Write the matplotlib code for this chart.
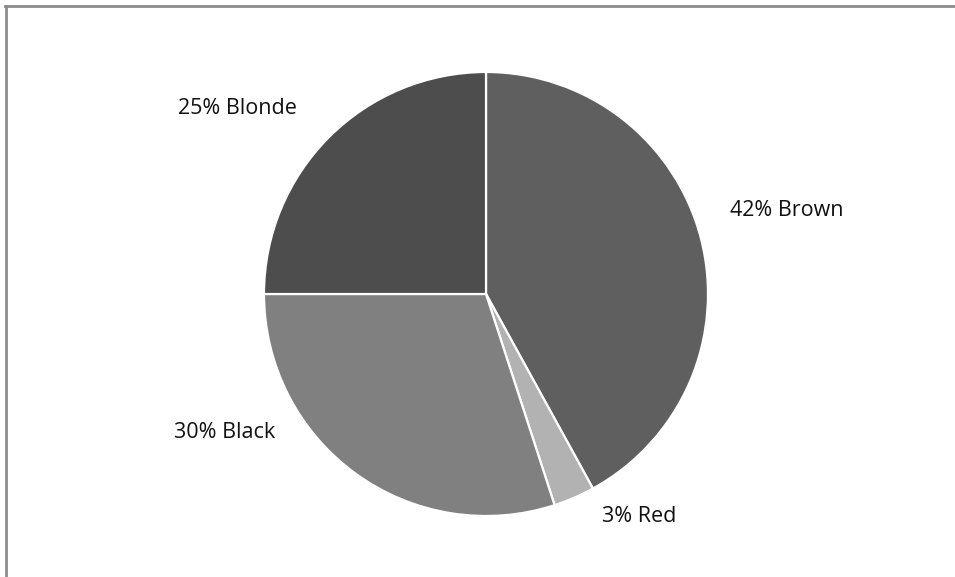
import matplotlib
matplotlib.use("Agg")
import matplotlib.pyplot as plt
from matplotlib.lines import Line2D

categories = ["Brown", "Red", "Black", "Blonde"]
values = [42, 3, 30, 25]
colors = ["#5f5f5f", "#b2b2b2", "#808080", "#4d4d4d"]

W, H = 955, 577
fig = plt.figure(figsize=(W / 100, H / 100), dpi=100)
ax = fig.add_axes([0, 0, 1, 1])

cx, cy, r = 486, 294, 222
ax.pie(values, colors=colors, startangle=90, counterclock=False,
       center=(cx, H - cy), radius=r,
       wedgeprops=dict(edgecolor="white", linewidth=1.6))

label_pos = {"Blonde": (237, 108), "Brown": (787, 210),
             "Black": (225, 433), "Red": (639, 517)}
for cat, v in zip(categories, values):
    x, y = label_pos[cat]
    ax.text(x, H - y, f"{v}% {cat}", ha="center", va="center",
            fontsize=15.5, family="Open Sans", color="#111111")

ax.set_xlim(0, W)
ax.set_ylim(0, H)
ax.set_aspect("auto")
ax.axis("off")

fig.add_artist(Line2D([5.5 / W, 5.5 / W], [0, 1 - 6 / H], transform=fig.transFigure,
                      color="#8c8c8c", lw=2))
fig.add_artist(Line2D([5 / W, 1], [1 - 6 / H, 1 - 6 / H], transform=fig.transFigure,
                      color="#8c8c8c", lw=2))

fig.savefig("out.png", dpi=100, facecolor="white")
